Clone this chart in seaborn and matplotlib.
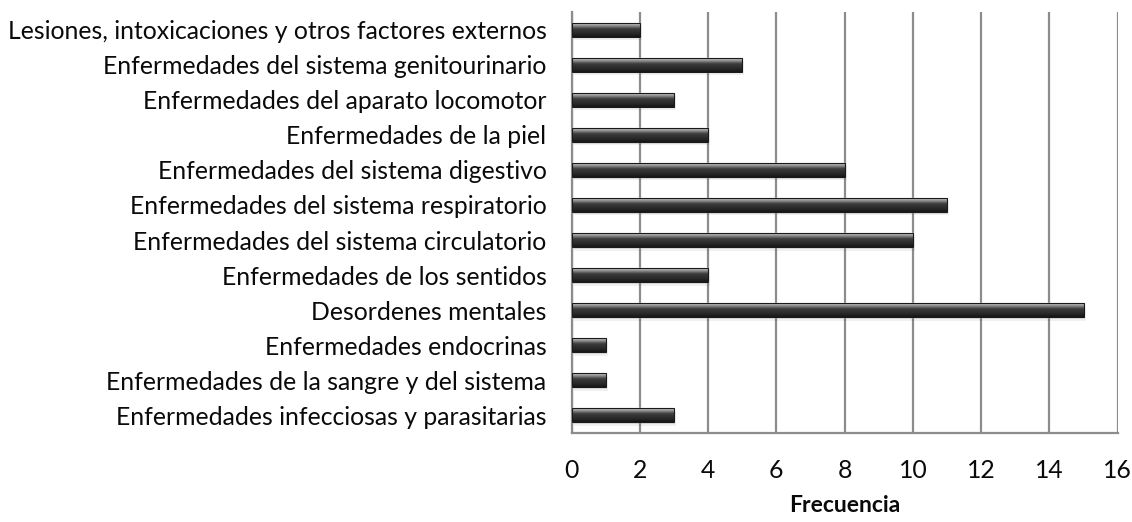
import numpy as np
import pandas as pd
import matplotlib
matplotlib.use("Agg")
import matplotlib.pyplot as plt
import seaborn as sns
from matplotlib.colors import LinearSegmentedColormap

categories = [
    "Lesiones, intoxicaciones y otros factores externos",
    "Enfermedades del sistema genitourinario",
    "Enfermedades del aparato locomotor",
    "Enfermedades de la piel",
    "Enfermedades del sistema digestivo",
    "Enfermedades del sistema respiratorio",
    "Enfermedades del sistema circulatorio",
    "Enfermedades de los sentidos",
    "Desordenes mentales",
    "Enfermedades endocrinas",
    "Enfermedades de la sangre y del sistema",
    "Enfermedades infecciosas y parasitarias",
]
values = [2, 5, 3, 4, 8, 11, 10, 4, 15, 1, 1, 3]
x_ticks = [0, 2, 4, 6, 8, 10, 12, 14, 16]

sns.set_theme(style="white")
plt.rcParams["font.family"] = ["Lato", "DejaVu Sans"]

df = pd.DataFrame({"cat": categories, "val": values})

fig = plt.figure(figsize=(11.32, 5.22), dpi=100)
ax = fig.add_axes([0.5049, 0.1705, 0.4825, 0.8065])

sns.barplot(data=df, y="cat", x="val", orient="h", color="#333333",
            width=0.4, ax=ax, zorder=3)

# gradient shading on each bar (cylinder look), derived from seaborn patches
cmap = LinearSegmentedColormap.from_list(
    "cyl", [(0.0, "#606060"), (0.1, "#c4c4c4"), (0.3, "#777777"),
            (0.45, "#3c3c3c"), (0.75, "#2a2a2a"), (1.0, "#161616")])
grad = np.linspace(0, 1, 64).reshape(-1, 1)
for p in list(ax.patches):
    x0, y0 = p.get_x(), p.get_y()
    w, h = p.get_width(), p.get_height()
    # soft drop shadow
    for k, a in [(0.05, 0.10), (0.10, 0.06)]:
        sh = plt.Rectangle((x0 + k * 0.6, y0 + k), w, h, color="#000000",
                           alpha=a, zorder=2, lw=0)
        ax.add_patch(sh)
    im = ax.imshow(grad, cmap=cmap, aspect="auto",
                   extent=(x0, x0 + w, y0 + h, y0), zorder=4,
                   interpolation="bilinear")
    im.set_clip_path(p)
    ol = plt.Rectangle((x0, y0), w, h, fill=False, edgecolor="#1a1a1a",
                       lw=0.8, zorder=5)
    ax.add_patch(ol)

ax.set_xlim(0, 16)
ax.set_ylim(len(categories) - 0.5, -0.5)
ax.set_xticks(x_ticks)
ax.set_xticklabels([str(t) for t in x_ticks])
ax.grid(axis="x", color="#8c8c8c", lw=1.6, zorder=1)
ax.grid(axis="y", visible=False)
for s in ["top", "right"]:
    ax.spines[s].set_visible(False)
for s in ["left", "bottom"]:
    ax.spines[s].set_color("#8c8c8c")
    ax.spines[s].set_linewidth(1.6)
ax.tick_params(axis="x", length=0, pad=19, labelsize=17.8, colors="#0a0a0a")
ax.tick_params(axis="y", length=0, pad=18, labelsize=17.8, colors="#0a0a0a")
ax.set_ylabel("")
ax.set_xlabel("Frecuencia", fontsize=16.5, fontweight="bold", labelpad=9,
              color="#0a0a0a")

fig.savefig("out.png", dpi=100)
